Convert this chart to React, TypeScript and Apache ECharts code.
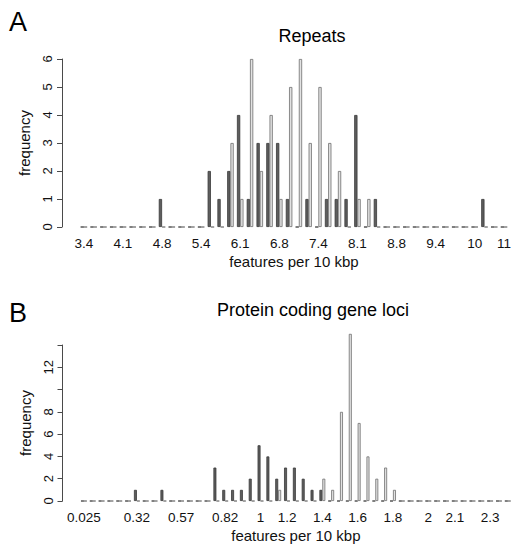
import React, { useEffect, useRef } from 'react';
import * as echarts from 'echarts';

// Panel A: Repeats
const catsA = ['3.4','3.6','3.8','3.9','4.1','4.3','4.4','4.6','4.8','4.9','5.1','5.3','5.4','5.6','5.8','5.9','6.1','6.3','6.4','6.6','6.8','6.9','7.1','7.3','7.4','7.6','7.8','7.9','8.1','8.3','8.4','8.6','8.8','8.9','9.1','9.3','9.4','9.6','9.8','9.9','10','10','10','11'];
const shownA = [0, 4, 8, 12, 16, 20, 24, 28, 32, 36, 40, 43];
const darkA = [0,0,0,0,0,0,0,0,1,0, 0,0,0,2,1,2,4,1,3,3, 3,1,0,1,0,1,1,1,4,0, 1,0,0,0,0,0,0,0,0,0, 0,1,0,0];
const lightA = [0,0,0,0,0,0,0,0,0,0, 0,0,0,0,0,3,1,6,2,4, 1,5,6,3,5,3,2,0,1,1, 0,0,0,0,0,0,0,0,0,0, 0,0,0,0];
const yTicksA = [0, 1, 2, 3, 4, 5, 6];

// Panel B: Protein coding gene loci
const catsB = ['0.025','0.075','0.12','0.17','0.22','0.27','0.32','0.37','0.42','0.47','0.52','0.57','0.62','0.67','0.72','0.77','0.82','0.87','0.92','0.97','1','1.1','1.1','1.2','1.2','1.3','1.3','1.4','1.4','1.5','1.5','1.6','1.6','1.7','1.7','1.8','1.8','1.9','1.9','2','2','2.1','2.1','2.2','2.2','2.3','2.3','2.4','2.4'];
const shownB = [0, 6, 11, 16, 20, 23, 27, 31, 35, 39, 42, 46];
const darkB = [0,0,0,0,0,0,1,0,0,1, 0,0,0,0,0,3,1,1,1,2, 5,4,2,3,3,2,1,1,0,0, 0,0,0,0,0,0,0,0,0,0, 0,0,0,0,0,0,0,0,0];
const lightB = [0,0,0,0,0,0,0,0,0,0, 0,0,0,0,0,0,0,0,0,0, 0,0,1,0,0,0,0,2,1,8, 15,7,4,2,3,1,0,0,0,0, 0,0,0,0,0,0,0,0,0];
const yTicksB = [0, 2, 4, 6, 8, 10, 12, 14];
const yLabelsB = ['0', '2', '4', '6', '8', '', '12', ''];

const FONT = '"Liberation Sans", Arial, Helvetica, sans-serif';
const TXT = '#111';

export default function App() {
  const ref = useRef<HTMLDivElement>(null);
  useEffect(() => {
    document.body.style.margin = '0';
    const chart = echarts.init(ref.current as HTMLDivElement, null, { renderer: 'svg' });
    const darkStyle = { color: '#5e5e5e', borderColor: '#383838', borderWidth: 0.8 };
    const lightStyle = { color: '#e2e2e2', borderColor: '#6e6e6e', borderWidth: 0.8 };
    const mkY = (gi: number, ticks: number[], labels: string[] | null) => ({
      gridIndex: gi,
      type: 'value',
      min: ticks[0],
      max: ticks[ticks.length - 1],
      interval: ticks[1] - ticks[0],
      offset: 17,
      name: 'frequency',
      nameLocation: 'middle',
      nameRotate: 90,
      nameGap: 30,
      nameTextStyle: { fontSize: 15, color: TXT, fontFamily: FONT },
      axisLine: { show: true, lineStyle: { color: '#4a4a4a', width: 1 } },
      axisTick: { show: true, length: 5, lineStyle: { color: '#4a4a4a', width: 1 } },
      axisLabel: {
        rotate: 90,
        margin: 8,
        fontSize: 13,
        color: TXT,
        fontFamily: FONT,
        formatter: (v: number) => {
          if (!labels) return String(v);
          const i = ticks.indexOf(v);
          return i >= 0 ? labels[i] : '';
        },
      },
      splitLine: { show: false },
    });
    const mkX = (gi: number, cats: string[], shown: number[]) => ({
      gridIndex: gi,
      type: 'category',
      data: cats,
      name: 'features per 10 kbp',
      nameLocation: 'middle',
      nameGap: 27,
      nameTextStyle: { fontSize: 15, color: TXT, fontFamily: FONT },
      axisLine: { show: false },
      axisTick: { show: false },
      axisLabel: {
        interval: (idx: number) => shown.includes(idx),
        margin: 9,
        fontSize: 13.5,
        color: TXT,
        fontFamily: FONT,
        hideOverlap: false,
      },
      splitLine: { show: false },
    });
    const bar = (name: string, xi: number, data: number[], style: any) => ({
      type: 'bar',
      name,
      xAxisIndex: xi,
      yAxisIndex: xi,
      data,
      barGap: '0%',
      barCategoryGap: '33.33%',
      clip: false,
      itemStyle: style,
      emphasis: { disabled: true },
    });
    chart.setOption({
      animation: false,
      grid: [
        { left: 79, top: 59, width: 432.5, height: 168 },
        { left: 79.5, top: 345, width: 432.7, height: 156 },
      ],
      xAxis: [mkX(0, catsA, shownA), mkX(1, catsB, shownB)],
      yAxis: [mkY(0, yTicksA, null), mkY(1, yTicksB, yLabelsB)],
      series: [
        bar('dark', 0, darkA, darkStyle),
        bar('light', 0, lightA, lightStyle),
        bar('dark', 1, darkB, darkStyle),
        bar('light', 1, lightB, lightStyle),
      ],
      graphic: [
        { type: 'text', x: 18, y: 22, style: { text: 'A', fontSize: 27, fontFamily: FONT, fill: '#000', align: 'center', verticalAlign: 'middle' } },
        { type: 'text', x: 312, y: 36, style: { text: 'Repeats', fontSize: 18, fontFamily: FONT, fill: '#000', align: 'center', verticalAlign: 'middle' } },
        { type: 'text', x: 18, y: 313, style: { text: 'B', fontSize: 27, fontFamily: FONT, fill: '#000', align: 'center', verticalAlign: 'middle' } },
        { type: 'text', x: 313, y: 310, style: { text: 'Protein coding gene loci', fontSize: 18, fontFamily: FONT, fill: '#000', align: 'center', verticalAlign: 'middle' } },
      ],
    });
    return () => chart.dispose();
  }, []);
  return <div ref={ref} style={{ width: 514, height: 544 }} />;
}
